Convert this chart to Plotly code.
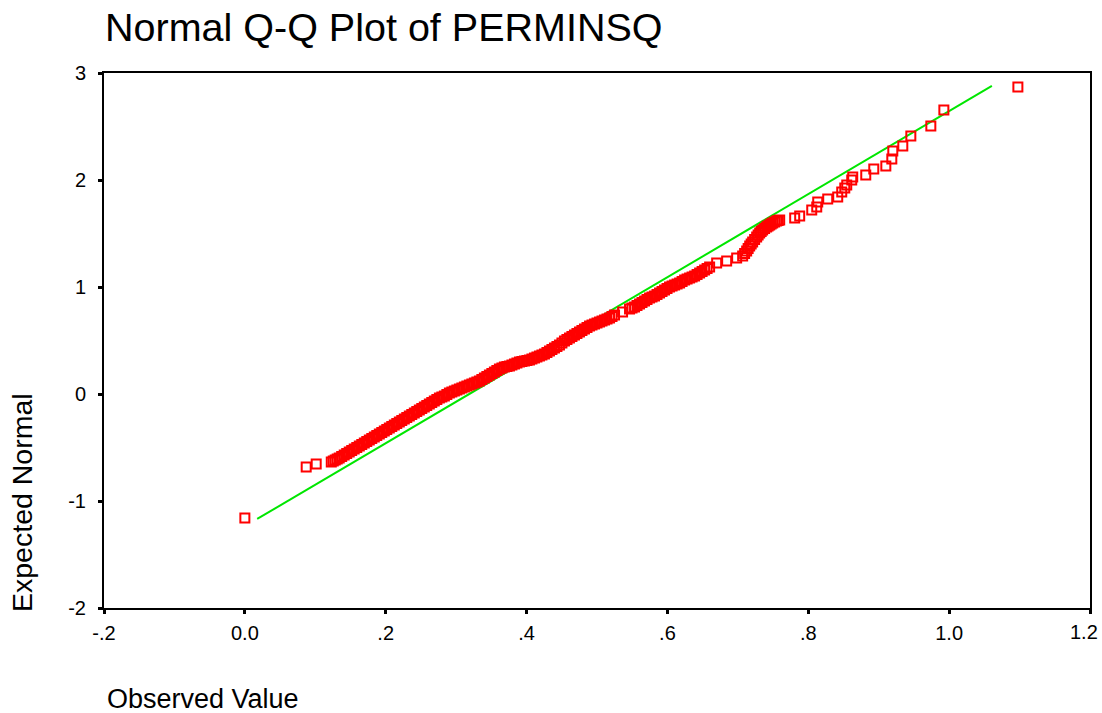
import plotly.graph_objects as go

observed = [
    0.000, 0.0871, 0.1013,
    0.1227, 0.1283, 0.1340, 0.1411, 0.1482, 0.1553, 0.1625, 0.1696, 0.1767, 0.1838,
    0.1909, 0.1980, 0.2051, 0.2122, 0.2193, 0.2264, 0.2335, 0.2406, 0.2477, 0.2548,
    0.2619, 0.2690, 0.2762, 0.2833, 0.2904, 0.2975, 0.3046, 0.3117, 0.3188, 0.3259,
    0.3330, 0.3401, 0.3472, 0.3543, 0.3614, 0.3685, 0.3757, 0.3828, 0.3899, 0.3970,
    0.4041, 0.4112, 0.4183, 0.4254, 0.4325, 0.4396, 0.4467, 0.4538, 0.4609, 0.4680,
    0.4751, 0.4822, 0.4894, 0.4965, 0.5036, 0.5107, 0.5178, 0.5249, 0.5363, 0.5462,
    0.5533, 0.5604, 0.5675, 0.5746, 0.5817, 0.5888, 0.5959, 0.6030, 0.6102, 0.6173,
    0.6244, 0.6315, 0.6386, 0.6457, 0.6528, 0.6599, 0.6699, 0.6841, 0.6983, 0.7068,
    0.7125, 0.7168, 0.7210, 0.7267, 0.7310, 0.7352, 0.7409, 0.7452, 0.7495, 0.7551,
    0.7594, 0.7807, 0.7878, 0.8049, 0.8120, 0.8134, 0.8276, 0.8418, 0.8475, 0.8518,
    0.8546, 0.8617, 0.8631, 0.8816, 0.8930, 0.9101, 0.9186, 0.9200, 0.9342, 0.9456,
    0.9740, 0.9925, 1.0976,
]
expected = [
    -1.159, -0.682, -0.654,
    -0.636, -0.617, -0.598, -0.570, -0.542, -0.514, -0.486, -0.458, -0.430, -0.402,
    -0.374, -0.346, -0.318, -0.290, -0.262, -0.234, -0.206, -0.178, -0.150, -0.121,
    -0.093, -0.065, -0.037, -0.019, 0.009, 0.028, 0.047, 0.065, 0.084, 0.103,
    0.121, 0.150, 0.178, 0.206, 0.234, 0.252, 0.262, 0.280, 0.299, 0.308,
    0.318, 0.336, 0.355, 0.374, 0.402, 0.430, 0.458, 0.495, 0.523, 0.551,
    0.579, 0.607, 0.636, 0.654, 0.673, 0.692, 0.710, 0.738, 0.766, 0.794,
    0.813, 0.841, 0.869, 0.897, 0.916, 0.944, 0.972, 1.000, 1.019, 1.037,
    1.065, 1.084, 1.103, 1.131, 1.159, 1.187, 1.224, 1.243, 1.271, 1.290,
    1.336, 1.383, 1.421, 1.467, 1.505, 1.533, 1.561, 1.579, 1.598, 1.617,
    1.626, 1.645, 1.664, 1.720, 1.748, 1.794, 1.822, 1.841, 1.888, 1.925,
    1.953, 2.000, 2.028, 2.047, 2.103, 2.131, 2.196, 2.271, 2.318, 2.411,
    2.505, 2.654, 2.869,
]

# Further cases read inside the dense (solid) part of the band
observed_dense = [
    0.1255, 0.1311, 0.1375, 0.1446, 0.1517, 0.1589, 0.1660, 0.1731, 0.1802, 0.1873,
    0.1944, 0.2015, 0.2086, 0.2157, 0.2228, 0.2299, 0.2370, 0.2441, 0.2512, 0.2583,
    0.2654, 0.2726, 0.2797, 0.2868, 0.2939, 0.3010, 0.3081, 0.3152, 0.3223, 0.3294,
    0.3365, 0.3436, 0.3507, 0.3578, 0.3650, 0.3721, 0.3792, 0.3863, 0.3934, 0.4005,
    0.4076, 0.4147, 0.4218, 0.4289, 0.4360, 0.4431, 0.4502, 0.4573, 0.4644, 0.4715,
    0.4786, 0.4858, 0.4929, 0.5000, 0.5071, 0.5142, 0.5213,
    0.5497, 0.5568, 0.5639, 0.5710, 0.5781, 0.5852, 0.5923, 0.5994, 0.6066, 0.6137,
    0.6208, 0.6279, 0.6350, 0.6421, 0.6492, 0.6563,
    0.7096, 0.7146, 0.7189, 0.7238, 0.7288, 0.7331, 0.7380, 0.7430, 0.7473, 0.7523,
    0.7572,
]
expected_dense = [
    -0.627, -0.608, -0.584, -0.556, -0.528, -0.500, -0.472, -0.444, -0.416, -0.388,
    -0.360, -0.332, -0.304, -0.276, -0.248, -0.220, -0.192, -0.164, -0.136, -0.107,
    -0.079, -0.051, -0.028, -0.005, 0.018, 0.037, 0.056, 0.075, 0.093, 0.112,
    0.135, 0.164, 0.192, 0.220, 0.243, 0.257, 0.271, 0.290, 0.303, 0.313,
    0.327, 0.346, 0.364, 0.388, 0.416, 0.444, 0.476, 0.509, 0.537, 0.565,
    0.593, 0.621, 0.645, 0.663, 0.682, 0.701, 0.724,
    0.803, 0.827, 0.855, 0.883, 0.906, 0.930, 0.958, 0.986, 1.009, 1.028,
    1.051, 1.075, 1.093, 1.117, 1.145, 1.173,
    1.313, 1.360, 1.402, 1.444, 1.486, 1.519, 1.547, 1.570, 1.589, 1.607,
    1.621,
]

# Reference line endpoints
line_x = [0.0175, 1.0607]
line_y = [-1.168, 2.879]

x_tickvals = [-0.2, 0.0, 0.2, 0.4, 0.6, 0.8, 1.0, 1.2]
x_ticktext = ["-.2", "0.0", ".2", ".4", ".6", ".8", "1.0", "1.2"]
y_tickvals = [-2, -1, 0, 1, 2, 3]
y_ticktext = ["-2", "-1", "0", "1", "2", "3"]

FONT = "Liberation Sans, Arial, sans-serif"

fig = go.Figure()
fig.add_trace(go.Scatter(
    x=line_x, y=line_y, mode="lines",
    line=dict(color="#00e600", width=2), hoverinfo="skip", showlegend=False,
))
marker_style = dict(symbol="square-open", size=9, color="#ff0000",
                    line=dict(color="#ff0000", width=2))
fig.add_trace(go.Scatter(
    x=observed_dense, y=expected_dense, mode="markers",
    marker=marker_style, showlegend=False,
))
fig.add_trace(go.Scatter(
    x=observed, y=expected, mode="markers",
    marker=marker_style, showlegend=False,
))

axis_common = dict(
    showgrid=False, zeroline=False, showline=True, linecolor="black",
    linewidth=2, mirror=True, ticks="outside", ticklen=4, tickwidth=3,
    tickcolor="black", tickfont=dict(family=FONT, size=20, color="black"),
    automargin=False,
)

# the last x tick label sits slightly inside the page edge, as in the reference
x_ticktext_axis = x_ticktext[:-1] + [""]

fig.update_layout(
    width=1102, height=713,
    margin=dict(l=104, r=12, t=73, b=105, autoexpand=False),
    paper_bgcolor="white", plot_bgcolor="white",
    title=dict(text="Normal Q-Q Plot of PERMINSQ", x=105 / 1102, xanchor="left",
               xref="container", y=1 - 27 / 713, yanchor="middle",
               font=dict(family=FONT, size=39.5, color="black")),
    xaxis=dict(range=[-0.2, 1.2], tickvals=x_tickvals, ticktext=x_ticktext_axis,
               ticklabelstandoff=2, **axis_common),
    yaxis=dict(range=[-2, 3], tickvals=y_tickvals, ticktext=y_ticktext,
               ticklabelstandoff=8, **axis_common),
    annotations=[
        dict(text=x_ticktext[-1], xref="x", yref="paper", x=x_tickvals[-1],
             y=(608 - 632) / 535, xanchor="center", yanchor="middle", xshift=-6,
             showarrow=False, font=dict(family=FONT, size=20, color="black")),
        dict(text="Observed Value", xref="paper", yref="paper",
             x=(105 - 104) / 986, y=(608 - 699) / 535, xanchor="left", yanchor="middle",
             showarrow=False, font=dict(family=FONT, size=27, color="black")),
        dict(text="Expected Normal", xref="paper", yref="paper", textangle=-90,
             x=(22 - 104) / 986, y=(608 - 503) / 535, xanchor="center", yanchor="middle",
             showarrow=False, font=dict(family=FONT, size=28.5, color="black")),
    ],
)

fig.write_html("out.html", config={"displayModeBar": False},
               post_script="document.body.style.margin='0px';")
